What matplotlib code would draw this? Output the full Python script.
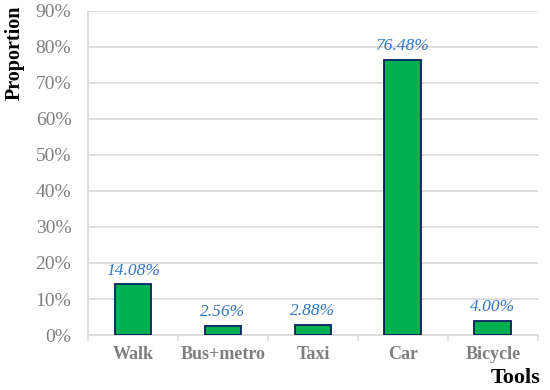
import matplotlib
matplotlib.use("Agg")
import matplotlib.pyplot as plt
from matplotlib.ticker import FuncFormatter, FixedLocator

plt.rcParams['font.family'] = ['Liberation Serif', 'DejaVu Serif']

# Data
tools = ['Walk', 'Bus+metro', 'Taxi', 'Car', 'Bicycle']
proportion = [14.08, 2.56, 2.88, 76.48, 4.00]

fig = plt.figure(figsize=(5.5, 3.9), dpi=100)
ax = fig.add_axes([0.16, 0.141, 0.818, 0.831])

x = range(len(tools))
ax.bar(x, proportion, width=0.41, color='#00b050', edgecolor='#002060', linewidth=1.3, zorder=3)

for i, v in enumerate(proportion):
    ax.text(i, v + 1.6, '{:.2f}%'.format(v), ha='center', va='bottom',
            fontsize=12.5, style='italic', color='#2e75c8')

ax.set_xlim(-0.5, len(tools) - 0.5)
ax.set_ylim(0, 90)
ax.set_yticks(range(0, 91, 10))
ax.yaxis.set_major_formatter(FuncFormatter(lambda v, p: '{:d}%'.format(int(v))))
ax.grid(axis='y', color='#d9d9d9', linewidth=1.2, zorder=0)

ax.set_xticks(list(x))
ax.set_xticklabels(tools, fontweight='bold', color='#7f7f7f', fontsize=13)
ax.xaxis.set_minor_locator(FixedLocator([i - 0.5 for i in range(len(tools) + 1)]))
ax.tick_params(axis='x', which='major', length=0, pad=8)
ax.tick_params(axis='x', which='minor', length=4, color='#d9d9d9', width=1.2)
ax.tick_params(axis='y', length=0, labelsize=14, labelcolor='#7f7f7f', pad=12)

for s in ['top', 'right']:
    ax.spines[s].set_visible(False)
ax.spines['left'].set_color('#d9d9d9')
ax.spines['left'].set_linewidth(1.2)
ax.spines['bottom'].set_color('#d9d9d9')
ax.spines['bottom'].set_linewidth(1.2)

fig.text(0.026, 0.865, 'Proportion', rotation=90, ha='center', va='center',
         fontsize=14.5, fontweight='bold')
fig.text(0.982, 0.031, 'Tools', ha='right', va='center', fontsize=16, fontweight='bold')

fig.savefig('out.png', dpi=100)
